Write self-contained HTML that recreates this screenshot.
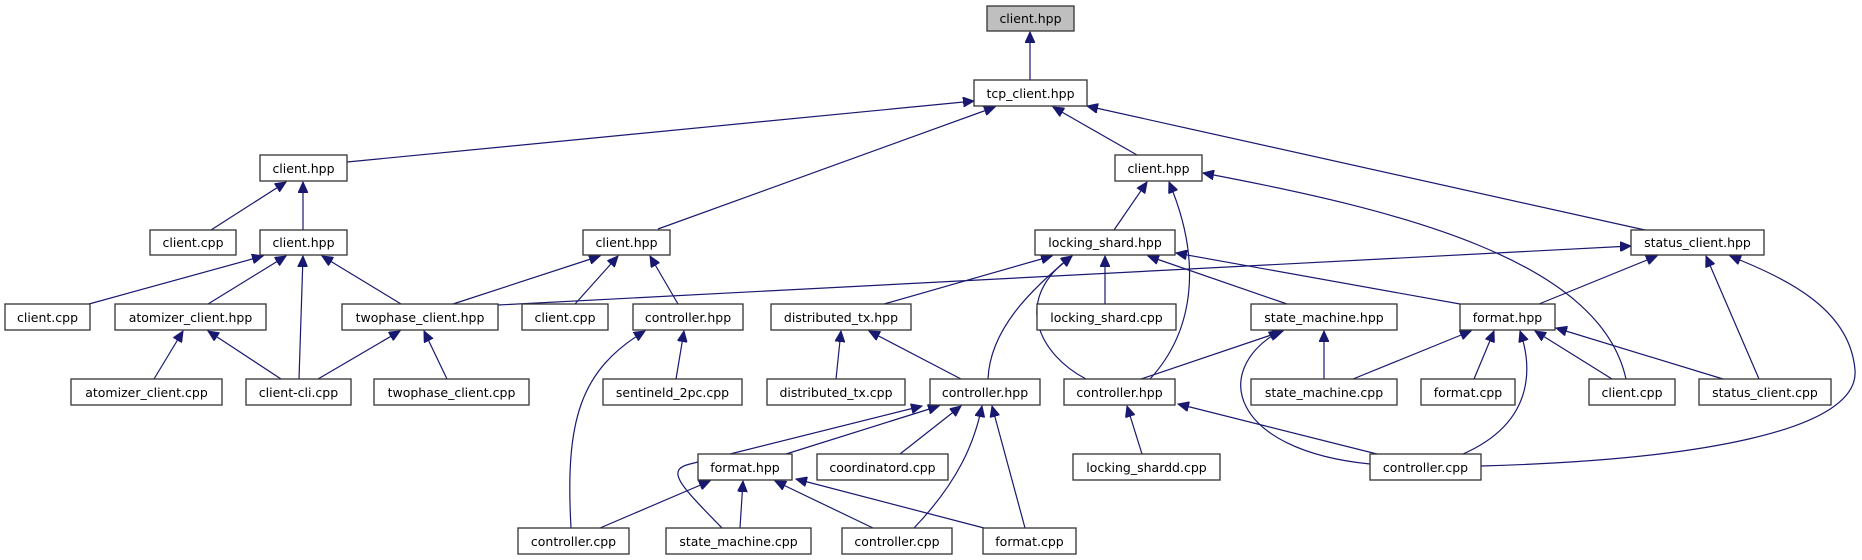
<!DOCTYPE html>
<html><head><meta charset="utf-8"><style>
html,body{margin:0;padding:0;background:#fff;}
svg{display:block;}
text{font-family:"DejaVu Sans","Liberation Sans",sans-serif;font-size:12.5px;fill:#000;}
.n{fill:#fff;stroke:#333;stroke-width:1.3;}
.e{fill:none;stroke:#191970;stroke-width:1.2;}
</style></head><body>
<svg width="1862" height="560" viewBox="0 0 1862 560" xmlns="http://www.w3.org/2000/svg">
<defs>
<marker id="a" markerUnits="userSpaceOnUse" markerWidth="12" markerHeight="10" refX="11" refY="5" orient="auto">
<path d="M0,0 L11,5 L0,10 z" fill="#191970" stroke="#191970"/>
</marker>
</defs>
<g class="e" marker-end="url(#a)">
<path d="M1030,80 L1030,32"/>
<path d="M347,162 L974,101"/>
<path d="M658,229 L995,107"/>
<path d="M1137,155 L1053,107"/>
<path d="M1645,230 L1087,106"/>
<path d="M211,230 L286,182"/>
<path d="M303,230 L303,182"/>
<path d="M89,304 L263,256"/>
<path d="M208,304 L286,256"/>
<path d="M299,379 L303,256"/>
<path d="M401,304 L322,256"/>
<path d="M154,379 L183,331"/>
<path d="M281,379 L208,331"/>
<path d="M318,379 L400,331"/>
<path d="M447,379 L424,331"/>
<path d="M453,304 L600,256"/>
<path d="M575,304 L618,256"/>
<path d="M678,304 L650,256"/>
<path d="M498,305 L1631,246"/>
<path d="M676,379 L684,331"/>
<path d="M571,528 C 565,420 580,370 645,331"/>
<path d="M1114,230 L1147,182"/>
<path d="M1150,379 C 1195,330 1202,260 1169,182"/>
<path d="M1626,379 C 1600,260 1400,210 1203,173"/>
<path d="M884,304 L1052,256"/>
<path d="M988,379 C 990,330 1030,290 1072,256"/>
<path d="M1086,379 C 1040,355 1010,300 1072,256"/>
<path d="M1105,304 L1105,256"/>
<path d="M1287,304 L1148,256"/>
<path d="M1460,304 L1176,253"/>
<path d="M836,379 L841,331"/>
<path d="M961,379 L869,331"/>
<path d="M786,454 L939,406"/>
<path d="M722,528 C 680,485 665,470 690,464 L922,406"/>
<path d="M900,454 L961,406"/>
<path d="M914,528 C 960,480 975,440 982,406"/>
<path d="M1025,528 L992,406"/>
<path d="M600,528 L710,481"/>
<path d="M740,528 L743,481"/>
<path d="M873,528 L775,481"/>
<path d="M984,528 L796,479"/>
<path d="M1142,454 L1127,406"/>
<path d="M1377,454 L1178,404"/>
<path d="M1141,379 L1283,331"/>
<path d="M1324,379 L1324,331"/>
<path d="M1370,464 C 1230,450 1210,370 1280,331"/>
<path d="M1353,379 L1471,331"/>
<path d="M1474,379 L1494,331"/>
<path d="M1463,454 C 1540,420 1530,360 1520,331"/>
<path d="M1612,379 L1535,331"/>
<path d="M1723,379 L1556,328"/>
<path d="M1539,304 L1657,256"/>
<path d="M1759,379 L1706,256"/>
<path d="M1481,466 C 1700,460 1860,430 1855,370 C 1850,310 1790,280 1730,256"/>
</g>
<g>
<rect x="987" y="6" width="87" height="25" style="fill:#bfbfbf;stroke:#333;stroke-width:1.3"/><text x="1030.5" y="23" text-anchor="middle">client.hpp</text>
<rect class="n" x="974" y="80" width="113" height="26"/><text x="1030.5" y="98" text-anchor="middle">tcp_client.hpp</text>
<rect class="n" x="260" y="155" width="87" height="26"/><text x="303.5" y="173" text-anchor="middle">client.hpp</text>
<rect class="n" x="1115" y="155" width="87" height="26"/><text x="1158.5" y="173" text-anchor="middle">client.hpp</text>
<rect class="n" x="1631" y="230" width="133" height="25"/><text x="1697.5" y="247" text-anchor="middle">status_client.hpp</text>
<rect class="n" x="150" y="230" width="86" height="25"/><text x="193" y="247" text-anchor="middle">client.cpp</text>
<rect class="n" x="260" y="230" width="87" height="25"/><text x="303.5" y="247" text-anchor="middle">client.hpp</text>
<rect class="n" x="583" y="230" width="87" height="25"/><text x="626.5" y="247" text-anchor="middle">client.hpp</text>
<rect class="n" x="1035" y="230" width="140" height="25"/><text x="1105" y="247" text-anchor="middle">locking_shard.hpp</text>
<rect class="n" x="5" y="304" width="85" height="26"/><text x="47.5" y="322" text-anchor="middle">client.cpp</text>
<rect class="n" x="115" y="304" width="151" height="26"/><text x="190.5" y="322" text-anchor="middle">atomizer_client.hpp</text>
<rect class="n" x="342" y="304" width="156" height="26"/><text x="420" y="322" text-anchor="middle">twophase_client.hpp</text>
<rect class="n" x="522" y="304" width="86" height="26"/><text x="565" y="322" text-anchor="middle">client.cpp</text>
<rect class="n" x="633" y="304" width="110" height="26"/><text x="688" y="322" text-anchor="middle">controller.hpp</text>
<rect class="n" x="771" y="304" width="140" height="26"/><text x="841" y="322" text-anchor="middle">distributed_tx.hpp</text>
<rect class="n" x="1037" y="304" width="139" height="26"/><text x="1106.5" y="322" text-anchor="middle">locking_shard.cpp</text>
<rect class="n" x="1251" y="304" width="146" height="26"/><text x="1324" y="322" text-anchor="middle">state_machine.hpp</text>
<rect class="n" x="1460" y="304" width="95" height="26"/><text x="1507.5" y="322" text-anchor="middle">format.hpp</text>
<rect class="n" x="71" y="379" width="151" height="26"/><text x="146.5" y="397" text-anchor="middle">atomizer_client.cpp</text>
<rect class="n" x="246" y="379" width="105" height="26"/><text x="298.5" y="397" text-anchor="middle">client-cli.cpp</text>
<rect class="n" x="374" y="379" width="155" height="26"/><text x="451.5" y="397" text-anchor="middle">twophase_client.cpp</text>
<rect class="n" x="603" y="379" width="139" height="26"/><text x="672.5" y="397" text-anchor="middle">sentineld_2pc.cpp</text>
<rect class="n" x="767" y="379" width="138" height="26"/><text x="836" y="397" text-anchor="middle">distributed_tx.cpp</text>
<rect class="n" x="930" y="379" width="110" height="26"/><text x="985" y="397" text-anchor="middle">controller.hpp</text>
<rect class="n" x="1064" y="379" width="111" height="26"/><text x="1119.5" y="397" text-anchor="middle">controller.hpp</text>
<rect class="n" x="1251" y="379" width="146" height="26"/><text x="1324" y="397" text-anchor="middle">state_machine.cpp</text>
<rect class="n" x="1421" y="379" width="94" height="26"/><text x="1468" y="397" text-anchor="middle">format.cpp</text>
<rect class="n" x="1589" y="379" width="86" height="26"/><text x="1632" y="397" text-anchor="middle">client.cpp</text>
<rect class="n" x="1699" y="379" width="132" height="26"/><text x="1765" y="397" text-anchor="middle">status_client.cpp</text>
<rect class="n" x="698" y="454" width="94" height="26"/><text x="745" y="472" text-anchor="middle">format.hpp</text>
<rect class="n" x="817" y="454" width="131" height="26"/><text x="882.5" y="472" text-anchor="middle">coordinatord.cpp</text>
<rect class="n" x="1073" y="454" width="147" height="26"/><text x="1146.5" y="472" text-anchor="middle">locking_shardd.cpp</text>
<rect class="n" x="1370" y="454" width="111" height="26"/><text x="1425.5" y="472" text-anchor="middle">controller.cpp</text>
<rect class="n" x="518" y="528" width="111" height="26"/><text x="573.5" y="546" text-anchor="middle">controller.cpp</text>
<rect class="n" x="666" y="528" width="145" height="26"/><text x="738.5" y="546" text-anchor="middle">state_machine.cpp</text>
<rect class="n" x="842" y="528" width="110" height="26"/><text x="897" y="546" text-anchor="middle">controller.cpp</text>
<rect class="n" x="983" y="528" width="93" height="26"/><text x="1029.5" y="546" text-anchor="middle">format.cpp</text>
</g>
</svg>
</body></html>
